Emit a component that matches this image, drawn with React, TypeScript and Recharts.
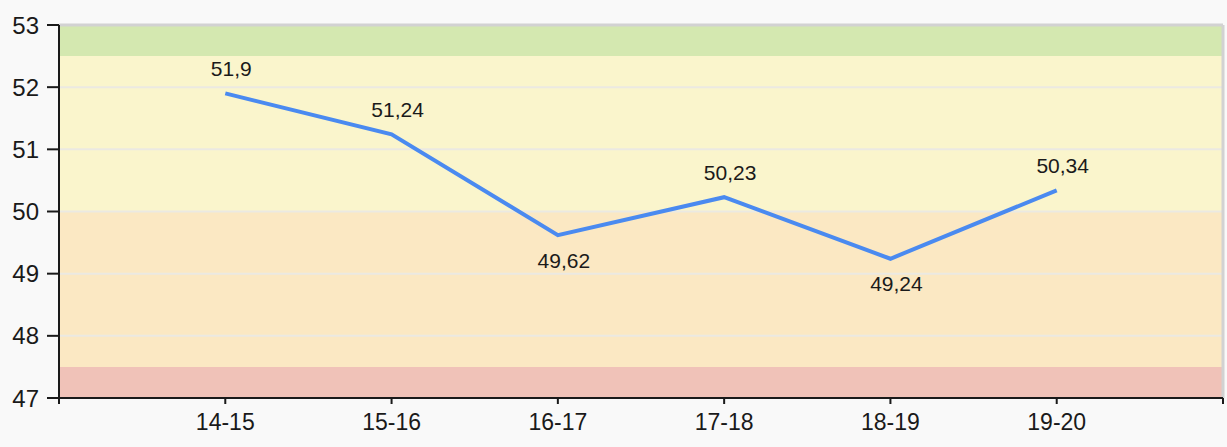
import React from 'react'
import {
  LineChart,
  Line,
  XAxis,
  YAxis,
  ReferenceArea,
  ReferenceLine,
  LabelList,
} from 'recharts'

const seasons = ['14-15', '15-16', '16-17', '17-18', '18-19', '19-20']
const scores = [51.9, 51.24, 49.62, 50.23, 49.24, 50.34]
const yTicks = [47, 48, 49, 50, 51, 52, 53]

// coloured zones behind the line
const bands = [
  { from: 52.5, to: 53, color: '#d4e8b0' },
  { from: 50, to: 52.5, color: '#faf5cc' },
  { from: 47.5, to: 50, color: '#fbe8c3' },
  { from: 47, to: 47.5, color: '#f0c2b8' },
]

const chartData = seasons.map((s, i) => ({ idx: i + 1, season: s, score: scores[i] }))

const fmt = (v: number) => String(v).replace('.', ',')

const PointLabel = (props: any) => {
  const { x, y, value, index } = props
  const prev = index > 0 ? scores[index - 1] : Infinity
  const next = index < scores.length - 1 ? scores[index + 1] : Infinity
  const below = value < prev && value < next
  return (
    <text
      x={x + 6}
      y={below ? y + 25 : y - 25}
      textAnchor="middle"
      dominantBaseline="central"
      fontSize={21}
      fill="#1a1a1a"
    >
      {fmt(value)}
    </text>
  )
}

export default function App() {
  return (
    <div
      style={{
        position: 'absolute',
        left: 0,
        top: 0,
        width: 1227,
        height: 447,
        background: '#f9f9f9',
        fontFamily: '"Liberation Sans", Arial, sans-serif',
      }}
    >
      <LineChart
        width={1227}
        height={447}
        data={chartData}
        margin={{ top: 25, right: 4, bottom: 0, left: 0 }}
      >
        {bands.map((b) => (
          <ReferenceArea
            key={b.from}
            y1={b.from}
            y2={b.to}
            fill={b.color}
            fillOpacity={1}
            stroke="none"
            ifOverflow="hidden"
          />
        ))}
        {yTicks.slice(1, -1).map((t) => (
          <ReferenceLine key={t} y={t} stroke="#ebe9e2" strokeWidth={2} />
        ))}
        <ReferenceLine y={53} stroke="#d2d2d2" strokeWidth={3} />
        <ReferenceLine x={7} stroke="#d2d2d2" strokeWidth={3} />
        <XAxis
          dataKey="idx"
          type="number"
          domain={[0, 7]}
          ticks={[0, 1, 2, 3, 4, 5, 6, 7]}
          tickFormatter={(v: number) => seasons[v - 1] ?? ''}
          interval={0}
          height={49}
          tickSize={6}
          tickMargin={10}
          axisLine={{ stroke: '#1a1a1a', strokeWidth: 2 }}
          tickLine={{ stroke: '#1a1a1a', strokeWidth: 2 }}
          tick={{ fill: '#1a1a1a', fontSize: 23 }}
        />
        <YAxis
          type="number"
          domain={[47, 53]}
          ticks={yTicks}
          width={59}
          tickSize={12}
          tickMargin={8}
          axisLine={{ stroke: '#1a1a1a', strokeWidth: 2 }}
          tickLine={{ stroke: '#1a1a1a', strokeWidth: 2 }}
          tick={{ fill: '#1a1a1a', fontSize: 24 }}
        />
        <Line
          type="linear"
          dataKey="score"
          stroke="#4a8af0"
          strokeWidth={4}
          dot={false}
          isAnimationActive={false}
        >
          <LabelList dataKey="score" content={PointLabel} />
        </Line>
      </LineChart>
    </div>
  )
}
